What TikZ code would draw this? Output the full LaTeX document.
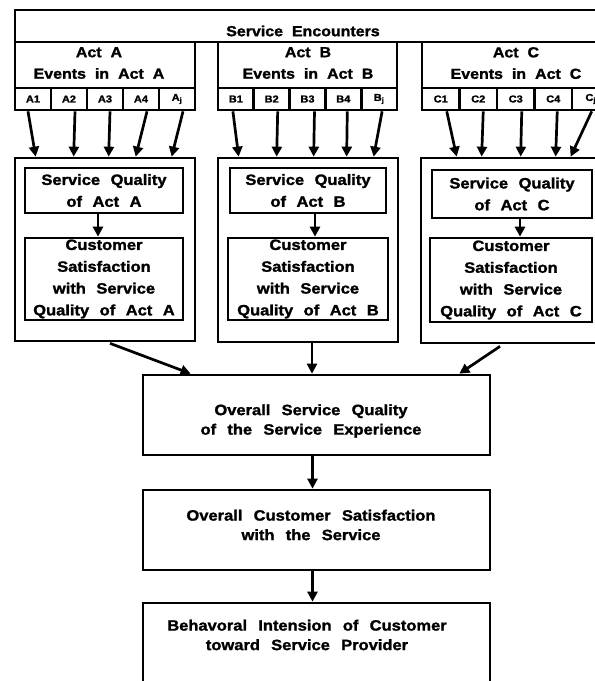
\documentclass[tikz,border=0pt]{standalone}
\usepackage{fontspec}
\setmainfont{Liberation Sans}[FakeStretch=1.1, BoldFeatures={FakeBold=1.5}]
\usetikzlibrary{arrows.meta}

% box from its corner coordinates: [style], name, x1, y1, x2, y2, text
\newcommand{\rbox}[7][]{%
  \node[box, #1, minimum width={(#5)-(#3)}, minimum height={(#6)-(#4)}]
    (#2) at ({(#3+#5)/2},{(#4+#6)/2}) {#7};}
% word spacing for the different text groups
\newcommand{\wsp}{\spaceskip=0.7em plus 0.1em\relax}
\newcommand{\wsphead}{\spaceskip=0.62em plus 0.1em\relax}
\newcommand{\wsplow}{\spaceskip=0.75em plus 0.1em\relax}

\begin{document}
\begin{tikzpicture}[x=1pt, y=-1pt,
  box/.style={draw, line width=2.7pt, inner sep=0pt, rectangle, align=center,
    font=\fontsize{15}{21.8}\selectfont\bfseries\wsp},
  cell/.style={font=\fontsize{10}{12}\selectfont\bfseries},
  txt/.style={inner sep=0pt, align=center,
    font=\fontsize{14.5}{21.5}\selectfont\bfseries\wsphead},
  small/.style={txt, font=\fontsize{15}{19.5}\selectfont\bfseries\wsplow},
  arr/.style={line width=2.7pt, -{Triangle[length=10pt,width=10pt]}}]

\useasboundingbox (0,0) rectangle (595,681);
\fill[white] (0,0) rectangle (595,681);
\clip (0,0) rectangle (595,681);

% header strip
\rbox{enc}{15}{10}{620}{42}{}
\node[txt] (enctxt) at (303,31) {Service Encounters};

% act boxes hanging below the header
\rbox{ea}{15}{42}{195}{110}{}
\rbox{eb}{218}{42}{397}{110}{}
\rbox{ec}{422}{42}{620}{110}{}
\node[txt, anchor=north] (eat) at (99,47) {Act A\\Events in Act A};
\node[txt, anchor=north] (ebt) at (308,47) {Act B\\Events in Act B};
\node[txt, anchor=north] (ect) at (516,47) {Act C\\Events in Act C};

% event cells
\foreach \i/\lab in {1/A1,2/A2,3/A3,4/A4,5/{A\textsubscript{j}}}
  {\rbox[cell]{a\i}{15+36*(\i-1)}{88}{15+36*\i}{110}{\lab}}
\foreach \i/\lab in {1/B1,2/B2,3/B3,4/B4,5/{B\textsubscript{j}}}
  {\rbox[cell]{b\i}{218+35.8*(\i-1)}{88}{218+35.8*\i}{110}{\lab}}
\foreach \i/\lab in {1/C1,2/C2,3/C3,4/C4,5/{C\textsubscript{j}}}
  {\rbox[cell]{c\i}{422+37.5*(\i-1)}{88}{422+37.5*\i}{110}{\lab}}

% act containers
\rbox{ca}{15}{158}{195}{341}{}
\rbox{cb}{218}{158}{398}{342}{}
\rbox{cc}{421}{158}{625}{343}{}

% quality and satisfaction per act
\rbox{qa}{25}{168}{183}{213}{Service Quality\\of Act A}
\rbox{sa}{25}{238}{183}{320}{Customer\\Satisfaction\\with Service\\Quality of Act A}
\rbox{qb}{230}{168}{386}{213}{Service Quality\\of Act B}
\rbox{sb}{228}{238}{388}{320}{Customer\\Satisfaction\\with Service\\Quality of Act B}
\rbox{qc}{432}{170}{592}{218}{Service Quality\\of Act C}
\rbox{sc}{430}{238}{592}{322}{Customer\\Satisfaction\\with Service\\Quality of Act C}

\draw[arr] ([xshift=-6pt]qa.south) -- ([xshift=-6pt]qa.south |- sa.north);
\draw[arr] ([xshift=7pt]qb.south) -- ([xshift=7pt]qb.south |- sb.north);
\draw[arr] ([xshift=8pt]qc.south) -- ([xshift=8pt]qc.south |- sc.north);

% event arrows into the act containers
\foreach \i/\dx/\ex in {1/-5/22, 2/6/60, 3/5/95, 4/6/122, 5/6/158}
  \draw[arr] ([xshift=\dx pt]a\i.south) -- ([xshift=\ex pt]ca.north west);
\foreach \i/\dx/\ex in {1/-3/22, 2/6/60, 3/7/97, 4/4/130, 5/3/157}
  \draw[arr] ([xshift=\dx pt]b\i.south) -- ([xshift=\ex pt]cb.north west);
\foreach \i/\dx/\ex in {1/6/37, 2/5/62, 3/6/101, 4/4/136, 5/1/151}
  \draw[arr] ([xshift=\dx pt]c\i.south) -- ([xshift=\ex pt]cc.north west);

% overall chain
\rbox{ov}{143}{375}{490}{455}{}
\node[small] (ovt) at (311,421) {Overall Service Quality\\of the Service Experience};
\rbox{cs}{143}{490}{490}{570}{}
\node[small] (cst) at (311,525) {Overall Customer Satisfaction\\with the Service};
\rbox{bi}{143}{603}{490}{720}{}
\node[small] (bit) at (307,635) {Behavoral Intension of Customer\\toward Service Provider};

\draw[arr] ([xshift=5pt,yshift=-1pt]ca.south) -- ([xshift=49pt]ov.north west);
\draw[arr] ([xshift=4pt]cb.south) -- ([xshift=4pt]cb.south |- ov.north);
\draw[arr] ([xshift=-23pt,yshift=-2pt]cc.south) -- ([xshift=-32pt]ov.north east);
\draw[arr] ([xshift=-4pt]ov.south) -- ([xshift=-4pt]ov.south |- cs.north);
\draw[arr] ([xshift=-4pt]cs.south) -- ([xshift=-4pt]cs.south |- bi.north);
\end{tikzpicture}
\end{document}
